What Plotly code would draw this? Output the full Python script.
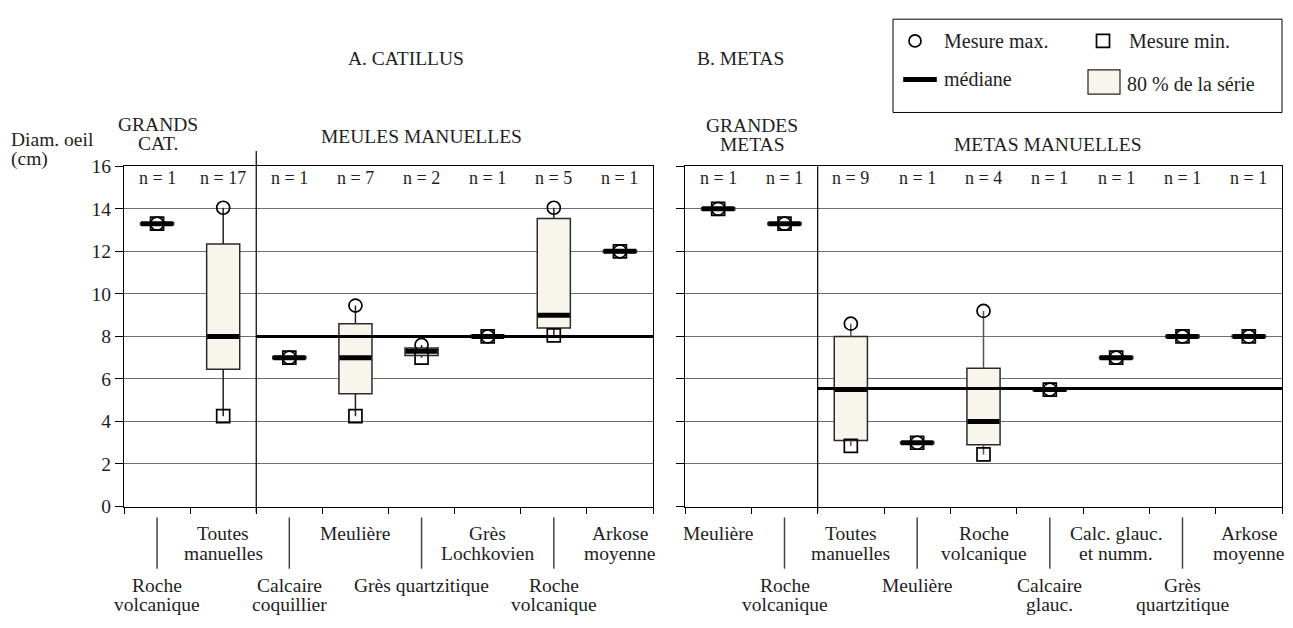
import plotly.graph_objects as go

# ---------------- data ----------------
left_labels = [["Roche", "volcanique"], ["Toutes", "manuelles"], ["Calcaire", "coquillier"], ["Meulière"],
               ["Grès quartzitique"], ["Grès", "Lochkovien"], ["Roche", "volcanique"], ["Arkose", "moyenne"]]
left_n = [1, 17, 1, 7, 2, 1, 5, 1]
left_max = [13.3, 14.05, 7.0, 9.45, 7.6, 8.0, 14.05, 12.0]
left_min = [13.3, 4.25, 7.0, 4.25, 7.0, 8.0, 8.05, 12.0]
left_p10 = [13.25, 6.45, 6.95, 5.3, 7.1, 7.95, 8.4, 11.95]
left_p90 = [13.35, 12.35, 7.05, 8.6, 7.45, 8.05, 13.55, 12.05]
left_med = [13.3, 8.0, 7.0, 7.0, 7.3, 8.0, 9.0, 12.0]
left_overall_median = 8.0

right_labels = [["Meulière"], ["Roche", "volcanique"], ["Toutes", "manuelles"], ["Meulière"],
                ["Roche", "volcanique"], ["Calcaire", "glauc."], ["Calc. glauc.", "et numm."],
                ["Grès", "quartzitique"], ["Arkose", "moyenne"]]
right_n = [1, 1, 9, 1, 4, 1, 1, 1, 1]
right_max = [14.0, 13.3, 8.6, 3.0, 9.2, 5.5, 7.0, 8.0, 8.0]
right_min = [14.0, 13.3, 2.85, 3.0, 2.45, 5.5, 7.0, 8.0, 8.0]
right_p10 = [13.95, 13.25, 3.1, 2.95, 2.9, 5.45, 6.95, 7.95, 7.95]
right_p90 = [14.05, 13.35, 8.0, 3.05, 6.5, 5.55, 7.05, 8.05, 8.05]
right_med = [14.0, 13.3, 5.5, 3.0, 4.0, 5.5, 7.0, 8.0, 8.0]
right_overall_median = 5.55

y_ticks = [0, 2, 4, 6, 8, 10, 12, 14, 16]

# ---------------- layout helpers ----------------
W, H = 1293, 628
FONT = "'Liberation Serif', 'DejaVu Serif', serif"
BOX_FILL = "#f8f5ec"
TXT = "#1e1e1e"
FS = 19.5

def px_x(p):
    return p / W

def px_y(p):
    return 1 - p / H

fig = go.Figure()
annotations = []
shapes = []

def add_lines(lines, x, xref, y_first, spacing=20, size=FS, xanchor="center"):
    for j, line in enumerate(lines):
        annotations.append(dict(x=x, y=px_y(y_first + j * spacing), xref=xref, yref="paper",
                                text=line, showarrow=False, xanchor=xanchor, yanchor="middle",
                                font=dict(family=FONT, size=size, color=TXT)))

panels = [
    dict(xa="x", ya="y", labels=left_labels, n=left_n, mx=left_max, mn=left_min, p10=left_p10,
         p90=left_p90, med=left_med, overall=left_overall_median, low_first=True, div_top=146,
         wcol="#222222"),
    dict(xa="x2", ya="y2", labels=right_labels, n=right_n, mx=right_max, mn=right_min, p10=right_p10,
         p90=right_p90, med=right_med, overall=right_overall_median, low_first=False, div_top=161.7,
         wcol="#555555"),
]

for P in panels:
    k = len(P["labels"])
    xs = list(range(k))
    # 80% boxes
    fig.add_trace(go.Bar(
        x=xs, y=[b - a for a, b in zip(P["p10"], P["p90"])], base=P["p10"], width=0.5,
        marker=dict(color=BOX_FILL, line=dict(color="#2a2a2a", width=1.5)),
        xaxis=P["xa"], yaxis=P["ya"], hoverinfo="skip"))
    # whiskers
    wx, wy = [], []
    for i in xs:
        if P["mx"][i] > P["p90"][i]:
            wx += [i, i, None]
            wy += [P["p90"][i], P["mx"][i], None]
        if P["mn"][i] < P["p10"][i]:
            wx += [i, i, None]
            wy += [P["p10"][i], P["mn"][i], None]
    fig.add_trace(go.Scatter(x=wx, y=wy, mode="lines", line=dict(color=P["wcol"], width=1.5),
                             xaxis=P["xa"], yaxis=P["ya"], hoverinfo="skip"))
    # overall median line of hand-mills
    fig.add_trace(go.Scatter(x=[1.5, k - 0.5], y=[P["overall"]] * 2, mode="lines",
                             line=dict(color="black", width=3), xaxis=P["xa"], yaxis=P["ya"],
                             hoverinfo="skip"))
    # medians
    fig.add_trace(go.Scatter(x=xs, y=P["med"], mode="markers",
                             marker=dict(symbol="line-ew", size=23, color="black",
                                         line=dict(color="black", width=5)),
                             xaxis=P["xa"], yaxis=P["ya"], hoverinfo="skip"))
    # min squares
    fig.add_trace(go.Scatter(x=xs, y=P["mn"], mode="markers",
                             marker=dict(symbol="square-open", size=13, color="black",
                                         line=dict(color="black", width=1.7)),
                             xaxis=P["xa"], yaxis=P["ya"], hoverinfo="skip"))
    # max circles
    fig.add_trace(go.Scatter(x=xs, y=P["mx"], mode="markers",
                             marker=dict(symbol="circle-open", size=13, color="black",
                                         line=dict(color="black", width=1.7)),
                             xaxis=P["xa"], yaxis=P["ya"], hoverinfo="skip"))
    # n labels
    for i in xs:
        add_lines([f"n = {P['n'][i]}"], i, P["xa"], 174, size=18)
    # group divider
    shapes.append(dict(type="line", xref=P["xa"], yref="paper", x0=1.5, x1=1.5,
                       y0=px_y(520), y1=px_y(P["div_top"]), line=dict(color="black", width=1.2)))
    # category labels (staggered)
    for i in xs:
        low = (i % 2 == 0) == P["low_first"]
        if low:
            shapes.append(dict(type="line", xref=P["xa"], yref="paper", x0=i, x1=i,
                               y0=px_y(525), y1=px_y(578), line=dict(color="#444", width=1.5)))
            add_lines(P["labels"][i], i, P["xa"], 595)
        else:
            add_lines(P["labels"][i], i, P["xa"], 542)

# headers
add_lines(["A. CATILLUS"], px_x(406), "paper", 50)
add_lines(["B. METAS"], px_x(740), "paper", 50)
add_lines(["GRANDS", "CAT."], px_x(158), "paper", 118)
add_lines(["MEULES MANUELLES"], px_x(421), "paper", 131)
add_lines(["GRANDES", "METAS"], px_x(752), "paper", 119)
add_lines(["METAS MANUELLES"], px_x(1047), "paper", 139)
add_lines(["Diam. oeil", "(cm)"], px_x(9), "paper", 134, xanchor="left")

# legend box
shapes.append(dict(type="rect", xref="paper", yref="paper", x0=px_x(893), x1=px_x(1282),
                   y0=px_y(106), y1=px_y(9.5), line=dict(color="black", width=1), fillcolor="rgba(0,0,0,0)"))
shapes.append(dict(type="rect", xref="paper", yref="paper", x0=px_x(1088), x1=px_x(1120),
                   y0=px_y(87), y1=px_y(62), line=dict(color="#222", width=1.2), fillcolor=BOX_FILL))
fig.add_trace(go.Scatter(x=[915], y=[32], mode="markers", xaxis="x3", yaxis="y3", hoverinfo="skip",
                         marker=dict(symbol="circle-open", size=12, color="black", line=dict(width=1.7, color="black"))))
fig.add_trace(go.Scatter(x=[1103], y=[32], mode="markers", xaxis="x3", yaxis="y3", hoverinfo="skip",
                         marker=dict(symbol="square-open", size=13, color="black", line=dict(width=1.7, color="black"))))
fig.add_trace(go.Scatter(x=[920], y=[72], mode="markers", xaxis="x3", yaxis="y3", hoverinfo="skip",
                         marker=dict(symbol="line-ew", size=24, color="black", line=dict(width=5, color="black"))))
add_lines(["Mesure max."], px_x(942), "paper", 32, size=20, xanchor="left")
add_lines(["Mesure min."], px_x(1127), "paper", 32, size=20, xanchor="left")
add_lines(["médiane"], px_x(942), "paper", 71, size=20, xanchor="left")
add_lines(["80 % de la série"], px_x(1125), "paper", 77, size=20, xanchor="left")

ydom = [px_y(513.7), px_y(161.7)]
axis_common = dict(showline=True, linecolor="black", linewidth=1.2, mirror=True, zeroline=False)

fig.update_layout(
    width=W, height=H, margin=dict(l=0, r=0, t=0, b=0),
    paper_bgcolor="white", plot_bgcolor="white", showlegend=False, barmode="overlay",
    font=dict(family=FONT, color=TXT),
    xaxis=dict(domain=[px_x(124), px_x(653)], range=[-0.5, len(left_labels) - 0.5], anchor="y",
               tickvals=[i - 0.5 for i in range(len(left_labels) + 1)], showticklabels=False,
               ticks="outside", ticklen=6, tickcolor="black", showgrid=False, **axis_common),
    yaxis=dict(domain=ydom, range=[0, 16], anchor="x", tickvals=y_ticks, ticks="outside", ticklen=8,
               tickcolor="black", showgrid=True, gridcolor="#6e6e6e", gridwidth=1,
               tickfont=dict(family=FONT, size=19.5, color=TXT), **axis_common),
    xaxis2=dict(domain=[px_x(685), px_x(1282)], range=[-0.5, len(right_labels) - 0.5], anchor="y2",
                tickvals=[i - 0.5 for i in range(len(right_labels) + 1)], showticklabels=False,
                ticks="outside", ticklen=6, tickcolor="black", showgrid=False, **axis_common),
    yaxis2=dict(domain=ydom, range=[0, 16], anchor="x2", tickvals=y_ticks, ticks="outside", ticklen=8,
                tickcolor="black", showticklabels=False, showgrid=True, gridcolor="#6e6e6e", gridwidth=1,
                **axis_common),
    xaxis3=dict(domain=[px_x(893), px_x(1282)], range=[893, 1282], visible=False, anchor="y3"),
    yaxis3=dict(domain=[px_y(106), px_y(9.5)], range=[106, 9.5], visible=False, anchor="x3"),
    annotations=annotations, shapes=shapes,
)

fig.write_html("out.html", config={"displayModeBar": False},
               post_script="document.body.style.margin='0px';document.body.style.overflow='hidden';")
